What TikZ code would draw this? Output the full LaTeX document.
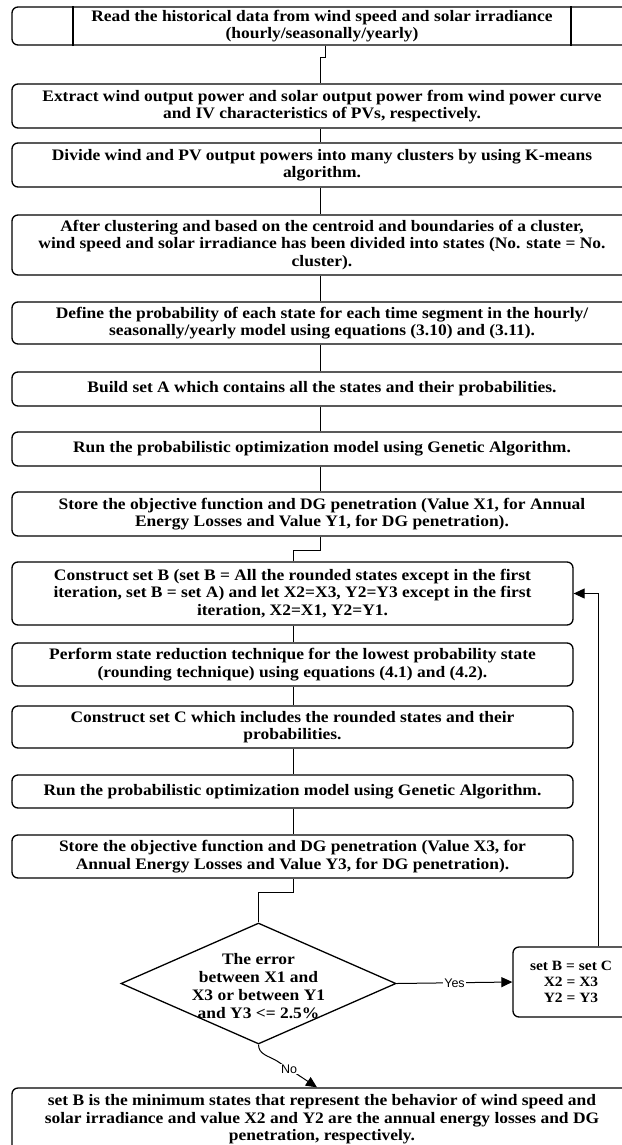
\documentclass[tikz,border=0pt]{standalone}
\usepackage{fontspec}
\setmainfont{Liberation Serif}[FakeStretch=1.09]
\newfontfamily\lblfont{Liberation Sans}
\usetikzlibrary{shapes.geometric,arrows.meta}
\begin{document}
\begin{tikzpicture}[x=1pt,y=-1pt,
  txt/.style={font=\bfseries\fontsize{16}{17.5}\selectfont, align=center},
  box/.style={txt, draw, line width=1.3pt, rounded corners=6pt, inner sep=0pt},
  fullbox/.style={box, minimum width=620pt},
  halfbox/.style={box, minimum width=561pt},
  conn/.style={line width=1pt},
  arr/.style={conn, -{Triangle[length=11pt,width=10pt]}},
  lbl/.style={fill=white, inner sep=1pt, font=\lblfont\fontsize{12.5}{14}\selectfont}]
\useasboundingbox (0,0) rectangle (621,1145);
\fill[white] (0,0) rectangle (621,1145);

% process steps
\node[fullbox, minimum height=38pt] (b1) at (322,26)
  {Read the historical data from wind speed and solar irradiance\\(hourly/seasonally/yearly)};
\node[fullbox, minimum height=44pt] (b2) at (322,106)
  {Extract wind output power and solar output power from wind power curve\\and IV characteristics of PVs, respectively.};
\node[fullbox, minimum height=44pt] (b3) at (322,165)
  {Divide wind and PV output powers into many clusters by using K-means\\algorithm.};
\node[fullbox, minimum height=60pt] (b4) at (322,245)
  {After clustering and based on the centroid and boundaries of a cluster,\\wind speed and solar irradiance has been divided into states (No. state = No.\\cluster).};
\node[fullbox, minimum height=42pt] (b5) at (322,323)
  {Define the probability of each state for each time segment in the hourly/\\seasonally/yearly model using equations (3.10) and (3.11).};
\node[fullbox, minimum height=34pt] (b6) at (322,389)
  {Build set A which contains all the states and their probabilities.};
\node[fullbox, minimum height=34pt] (b7) at (322,449)
  {Run the probabilistic optimization model using Genetic Algorithm.};
\node[fullbox, minimum height=44pt] (b8) at (322,514)
  {Store the objective function and DG penetration (Value X1, for Annual\\Energy Losses and Value Y1, for DG penetration).};
\node[halfbox, minimum height=63pt] (b9) at (292.5,593.5)
  {Construct set B (set B = All the rounded states except in the first\\iteration, set B = set A) and let X2=X3, Y2=Y3 except in the first\\iteration, X2=X1, Y2=Y1.};
\node[halfbox, minimum height=43pt] (b10) at (292.5,664.5)
  {Perform state reduction technique for the lowest probability state\\(rounding technique) using equations (4.1) and (4.2).};
\node[halfbox, minimum height=42pt] (b11) at (292.5,727)
  {Construct set C which includes the rounded states and their\\probabilities.};
\node[halfbox, minimum height=33pt] (b12) at (292.5,791.5)
  {Run the probabilistic optimization model using Genetic Algorithm.};
\node[halfbox, minimum height=43pt] (b13) at (292.5,856.5)
  {Store the objective function and DG penetration (Value X3, for\\Annual Energy Losses and Value Y3, for DG penetration).};

% decision
\node[draw, line width=1.3pt, diamond, inner sep=0pt, minimum width=275pt, minimum height=121pt] (dia) at (258.5,983.5) {};
\node[txt, font=\bfseries\fontsize{16}{18}\selectfont] (dtxt) at (258.5,986)
  {The error\\between X1 and\\X3 or between Y1\\and Y3 <= 2.5\%};

\node[box, font=\bfseries\fontsize{14.2}{16}\selectfont, minimum width=116pt, minimum height=70pt] (b14) at (571,982)
  {set B = set C\\X2 = X3\\Y2 = Y3};
\node[fullbox, minimum height=63pt] (b15) at (322,1119.5)
  {set B is the minimum states that represent the behavior of wind speed and\\solar irradiance and value X2 and Y2 are the annual energy losses and DG\\penetration, respectively.};

% predefined-process side bars of the first step
\coordinate (p1) at (73,0);
\coordinate (p2) at (571,0);
\draw[line width=1.3pt] (b1.north -| p1) -- (b1.south -| p1);
\draw[line width=1.3pt] (b1.north -| p2) -- (b1.south -| p2);

% connectors
\coordinate (cx) at (320,0);
\coordinate (cy) at (293,0);
\coordinate (j1) at (325,58);
\coordinate (j2) at (320,58);
\draw[conn] (b1.south -| j1) -- (j1) -- (j2) -- (b2.north -| j2);
\foreach \a/\b in {b2/b3,b3/b4,b4/b5,b5/b6,b6/b7,b7/b8}
  \draw[conn] (\a.south -| cx) -- (\b.north -| cx);
\coordinate (j3) at (320,550);
\coordinate (j4) at (293,550);
\draw[conn] (b8.south -| j3) -- (j3) -- (j4) -- (b9.north -| j4);
\foreach \a/\b in {b9/b10,b10/b11,b11/b12,b12/b13}
  \draw[conn] (\a.south -| cy) -- (\b.north -| cy);
\coordinate (j5) at (293,892);
\coordinate (j6) at (258.5,892);
\draw[conn] (b13.south -| j5) -- (j5) -- (j6) -- (dia.north);

\draw[arr] (dia.east) -- node[lbl] (yes) {Yes} (b14.west);
\coordinate (lp) at (598,0);
\draw[arr] (b14.north -| lp) |- (b9.east);

\coordinate (nb) at (277,1061);
\coordinate (ne) at (317,0);
\draw[arr] (dia.south) .. controls +(0,10) and +(-8,-5) .. (nb)
  -- node[lbl, pos=0.3] (no) {No} (b15.north -| ne);
\end{tikzpicture}
\end{document}
